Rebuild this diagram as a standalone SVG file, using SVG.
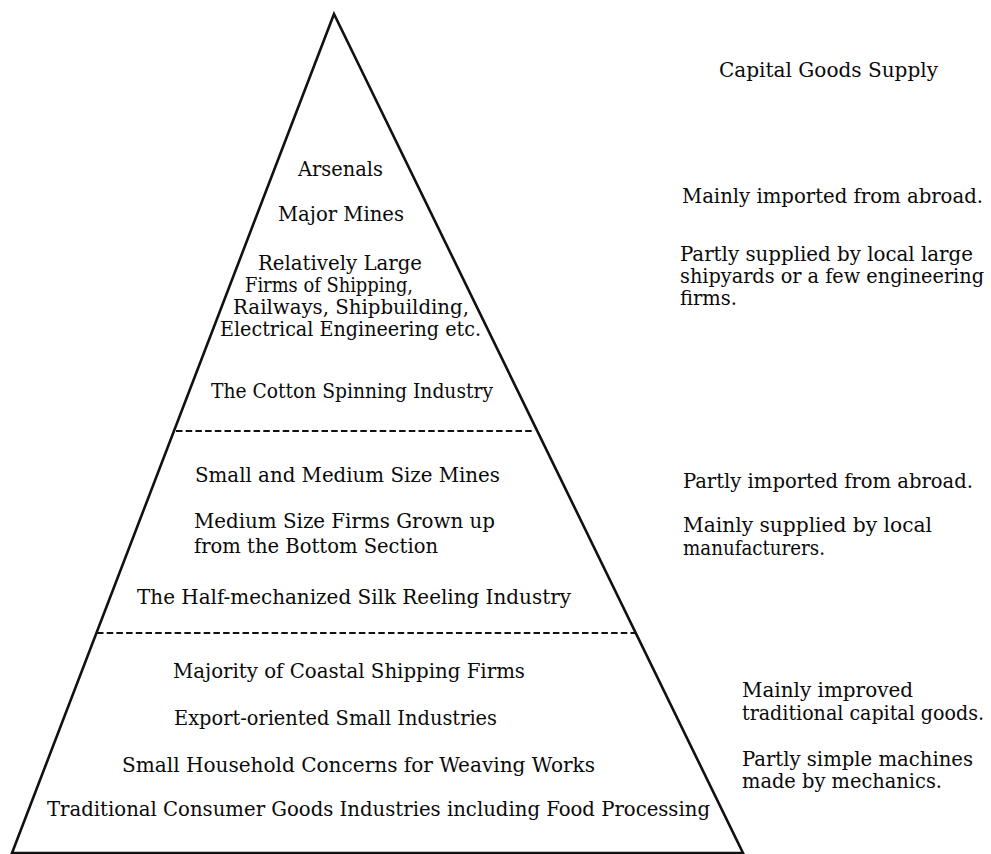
<svg xmlns="http://www.w3.org/2000/svg" width="991" height="854" viewBox="0 0 991 854">
<style>
.t{font-family:"DejaVu Serif Condensed","DejaVu Serif","Liberation Serif",serif;font-stretch:condensed;font-size:21px;fill:#0a0a0a}
.edge{fill:none;stroke:#111;stroke-width:2.6;stroke-linejoin:miter}
.dash{stroke:#111;stroke-width:2;stroke-dasharray:6.5 3.2}
</style>
<rect width="991" height="854" fill="#ffffff"/>
<g id="pyramid">
<polygon class="edge" points="334,14 12,853 743,853"/>
</g>
<g id="connectors">
<line class="dash" x1="176" y1="431" x2="535" y2="431"/>
<line class="dash" x1="97" y1="633" x2="635" y2="633"/>
</g>
<g id="tier-top">
<text class="t" x="298" y="176" textLength="85" lengthAdjust="spacingAndGlyphs">Arsenals</text>
<text class="t" x="278" y="221" textLength="126" lengthAdjust="spacingAndGlyphs">Major Mines</text>
<text class="t" x="258" y="270" textLength="164" lengthAdjust="spacingAndGlyphs">Relatively Large</text>
<text class="t" x="245" y="292" textLength="168" lengthAdjust="spacingAndGlyphs">Firms of Shipping,</text>
<text class="t" x="233" y="314" textLength="236" lengthAdjust="spacingAndGlyphs">Railways, Shipbuilding,</text>
<text class="t" x="220" y="336" textLength="261" lengthAdjust="spacingAndGlyphs">Electrical Engineering etc.</text>
<text class="t" x="211" y="398" textLength="282" lengthAdjust="spacingAndGlyphs">The Cotton Spinning Industry</text>
</g>
<g id="tier-middle">
<text class="t" x="195" y="482" textLength="305" lengthAdjust="spacingAndGlyphs">Small and Medium Size Mines</text>
<text class="t" x="194" y="528" textLength="301" lengthAdjust="spacingAndGlyphs">Medium Size Firms Grown up</text>
<text class="t" x="194" y="553" textLength="244" lengthAdjust="spacingAndGlyphs">from the Bottom Section</text>
<text class="t" x="137" y="604" textLength="434" lengthAdjust="spacingAndGlyphs">The Half-mechanized Silk Reeling Industry</text>
</g>
<g id="tier-bottom">
<text class="t" x="173" y="678" textLength="352" lengthAdjust="spacingAndGlyphs">Majority of Coastal Shipping Firms</text>
<text class="t" x="174" y="725" textLength="323" lengthAdjust="spacingAndGlyphs">Export-oriented Small Industries</text>
<text class="t" x="122" y="772" textLength="473" lengthAdjust="spacingAndGlyphs">Small Household Concerns for Weaving Works</text>
<text class="t" x="47" y="816" textLength="663" lengthAdjust="spacingAndGlyphs">Traditional Consumer Goods Industries  including Food Processing</text>
</g>
<g id="supply-header">
<text class="t" x="719" y="77" textLength="219" lengthAdjust="spacingAndGlyphs">Capital Goods Supply</text>
</g>
<g id="supply-top">
<text class="t" x="682" y="203" textLength="301" lengthAdjust="spacingAndGlyphs">Mainly imported from abroad.</text>
<text class="t" x="680" y="261" textLength="293" lengthAdjust="spacingAndGlyphs">Partly supplied by local large</text>
<text class="t" x="680" y="283" textLength="304" lengthAdjust="spacingAndGlyphs">shipyards or a few engineering</text>
<text class="t" x="680" y="305" textLength="57" lengthAdjust="spacingAndGlyphs">firms.</text>
</g>
<g id="supply-middle">
<text class="t" x="683" y="488" textLength="290" lengthAdjust="spacingAndGlyphs">Partly imported from abroad.</text>
<text class="t" x="683" y="532" textLength="249" lengthAdjust="spacingAndGlyphs">Mainly supplied by local</text>
<text class="t" x="683" y="555" textLength="142" lengthAdjust="spacingAndGlyphs">manufacturers.</text>
</g>
<g id="supply-bottom">
<text class="t" x="742" y="697" textLength="171" lengthAdjust="spacingAndGlyphs">Mainly improved</text>
<text class="t" x="742" y="720" textLength="242" lengthAdjust="spacingAndGlyphs">traditional capital goods.</text>
<text class="t" x="742" y="766" textLength="231" lengthAdjust="spacingAndGlyphs">Partly simple machines</text>
<text class="t" x="742" y="788" textLength="200" lengthAdjust="spacingAndGlyphs">made by mechanics.</text>
</g>
</svg>
